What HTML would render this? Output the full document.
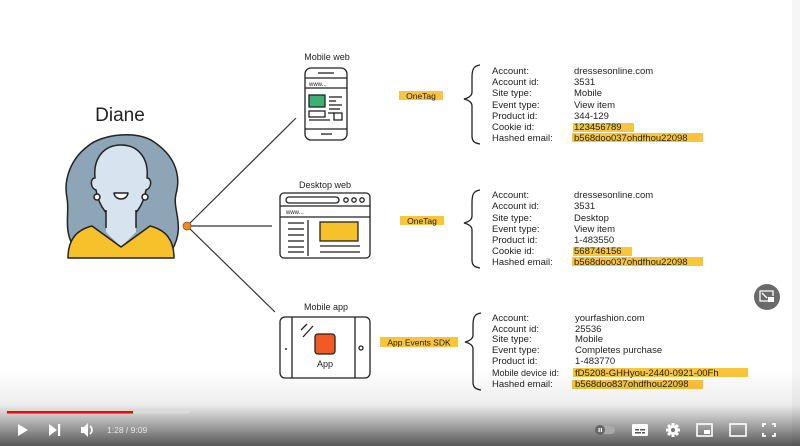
<!DOCTYPE html>
<html><head><meta charset="utf-8"><style>
html,body{margin:0;padding:0;background:#fff;}
svg{display:block;}
text{font-family:"Liberation Sans",sans-serif;fill:#222;}
</style></head><body>
<svg width="800" height="446" viewBox="0 0 800 446" xmlns="http://www.w3.org/2000/svg">
<defs>
<linearGradient id="bg" x1="0" y1="0" x2="0" y2="1">
<stop offset="0" stop-color="#000" stop-opacity="0"/>
<stop offset="0.45" stop-color="#000" stop-opacity="0.07"/>
<stop offset="0.6" stop-color="#000" stop-opacity="0.22"/>
<stop offset="1" stop-color="#000" stop-opacity="0.66"/>
</linearGradient>
</defs>
<rect x="0" y="0" width="800" height="446" fill="#fff"/>
<rect x="792" y="0" width="8" height="446" fill="#f6f6f6"/>

<!-- Diane -->
<text x="120" y="121" font-size="19" text-anchor="middle" font-family="Liberation Sans">Diane</text>
<g stroke="#222" stroke-width="1.5" stroke-linejoin="round">
<path d="M76 250 C 62 232, 70 214, 67 198 C 63 178, 72 158, 88 146 C 102 134, 138 130, 154 142 C 172 154, 182 172, 176 194 C 172 210, 186 226, 172 250 Z" fill="#8ea5b8"/>
<path d="M95 178 C 93 158, 104 145, 121 145 C 138 145, 149 158, 147 178 C 152 178, 152 188, 146 190 C 143 206, 134 220, 121 220 C 108 220, 99 206, 96 190 C 90 188, 90 178, 95 178 Z" fill="#d7e3ee"/>
<path d="M106 212 L106 232 L121 247 L136 232 L136 212 Z" fill="#d7e3ee" stroke="none"/>
<path d="M106 210 L106 228 M136 210 L136 228" fill="none"/>
<path d="M68 258 C 68 240, 76 230, 92 226 L121 247 L150 226 C 166 230, 174 240, 174 258 Z" fill="#f7c12c"/>
<circle cx="97" cy="197" r="3" fill="#fff"/>
<circle cx="145" cy="197" r="3" fill="#fff"/>
<path d="M114 193 L128 193 C 127 201, 115 201, 114 193 Z" fill="#fff"/>
</g>

<!-- connectors -->
<g stroke="#333" stroke-width="1.2">
<line x1="187" y1="226" x2="296" y2="118"/>
<line x1="187" y1="226" x2="272" y2="226"/>
<line x1="187" y1="226" x2="275" y2="312"/>
</g>
<circle cx="187" cy="226" r="4" fill="#f08a24" stroke="#a04a10" stroke-width="0.8"/>

<!-- Mobile web -->
<text x="327" y="60" font-size="9" text-anchor="middle">Mobile web</text>
<g stroke="#222" stroke-width="1.3" fill="none">
<rect x="305" y="68" width="42" height="72" rx="6" fill="#fff"/>
<line x1="318" y1="73" x2="334" y2="73"/>
<line x1="305" y1="78" x2="347" y2="78"/>
<line x1="305" y1="88" x2="347" y2="88"/>
<rect x="309" y="95" width="16" height="12" fill="#3fae77"/>
<line x1="329" y1="97" x2="342" y2="97"/>
<line x1="329" y1="101" x2="336" y2="101"/>
<line x1="329" y1="105" x2="342" y2="105"/>
<line x1="329" y1="109" x2="340" y2="109"/>
<rect x="309" y="111" width="16" height="6"/>
<line x1="328" y1="113" x2="334" y2="113"/>
<rect x="334" y="113" width="8" height="7"/>
<line x1="309" y1="120" x2="330" y2="120"/>
<line x1="305" y1="129" x2="347" y2="129"/>
<line x1="321" y1="134" x2="332" y2="134"/>
</g>
<text x="309" y="86" font-size="6">www...</text>

<!-- Desktop web -->
<text x="325" y="188" font-size="9" text-anchor="middle">Desktop web</text>
<g stroke="#222" stroke-width="1.3" fill="none">
<rect x="280" y="193" width="90" height="65" rx="4" fill="#fff"/>
<rect x="286" y="197" width="53" height="6" rx="3"/>
<circle cx="346" cy="200" r="2.2"/>
<circle cx="354" cy="200" r="2.2"/>
<circle cx="362" cy="200" r="2.2"/>
<line x1="280" y1="206" x2="370" y2="206"/>
<line x1="280" y1="217" x2="370" y2="217"/>
<line x1="308" y1="220" x2="308" y2="256"/>
<line x1="288" y1="223" x2="304" y2="223"/>
<line x1="288" y1="229" x2="304" y2="229"/>
<line x1="288" y1="235" x2="304" y2="235"/>
<line x1="288" y1="241" x2="304" y2="241"/>
<line x1="288" y1="247" x2="304" y2="247"/>
<line x1="288" y1="252" x2="304" y2="252"/>
<rect x="320" y="222" width="38" height="19" fill="#f7c12c"/>
<line x1="320" y1="246" x2="360" y2="246"/>
<line x1="320" y1="252" x2="360" y2="252"/>
</g>
<text x="286" y="214" font-size="6">www...</text>

<!-- Mobile app -->
<text x="326" y="310" font-size="9" text-anchor="middle">Mobile app</text>
<g stroke="#222" stroke-width="1.3" fill="none">
<rect x="280" y="317" width="90" height="61" rx="5" fill="#fff"/>
<line x1="292" y1="317" x2="292" y2="378"/>
<line x1="355" y1="317" x2="355" y2="378"/>
<circle cx="361" cy="348" r="2"/>
<line x1="301" y1="330" x2="307" y2="324"/>
<line x1="303" y1="337" x2="313" y2="326"/>
<rect x="315" y="334" width="20" height="20" rx="3" fill="#f15a24"/>
</g>
<circle cx="286" cy="349" r="1" fill="#222"/>
<text x="325" y="367" font-size="9" text-anchor="middle">App</text>

<!-- labels -->
<rect x="399" y="91" width="44" height="9" fill="#f8c53c"/>
<text x="421" y="99" font-size="8.5" text-anchor="middle">OneTag</text>
<rect x="400" y="216" width="44" height="9" fill="#f8c53c"/>
<text x="422" y="224" font-size="8.5" text-anchor="middle">OneTag</text>
<rect x="380" y="337" width="78" height="10" fill="#f8c53c"/>
<text x="419" y="345.5" font-size="8.5" text-anchor="middle">App Events SDK</text>

<!-- braces -->
<g stroke="#222" stroke-width="1.3" fill="none">
<path d="M480 65 C 473 66, 472 70, 472 78 L 472 92 C 472 96, 468 98, 464 99 C 468 100, 472 102, 472 106 L 472 136 C 472 141, 474 143, 480 144"/>
<path d="M480 190 C 473 191, 472 195, 472 203 L 472 216 C 472 220, 468 222, 464 223 C 468 224, 472 226, 472 230 L 472 260 C 472 265, 474 267, 480 268"/>
<path d="M481 313 C 474 314, 473 318, 473 326 L 473 335 C 473 339, 469 341, 465 342 C 469 343, 473 345, 473 349 L 473 382 C 473 387, 475 389, 481 390"/>
</g>

<!-- highlights -->
<g fill="#f8c53c">
<rect x="573" y="123" width="61" height="9"/>
<rect x="572" y="133" width="131" height="9"/>
<rect x="573" y="247" width="59" height="9"/>
<rect x="572" y="257" width="131" height="9"/>
<rect x="573" y="368" width="175" height="9"/>
<rect x="572" y="380" width="131" height="9"/>
</g>

<!-- block 1 -->
<g font-size="9.5">
<text x="492" y="74">Account:</text><text x="574" y="74">dressesonline.com</text>
<text x="492" y="85">Account id:</text><text x="574" y="85">3531</text>
<text x="492" y="96">Site type:</text><text x="574" y="96">Mobile</text>
<text x="492" y="108">Event type:</text><text x="574" y="108">View item</text>
<text x="492" y="119">Product id:</text><text x="574" y="119">344-129</text>
<text x="492" y="130">Cookie id:</text><text x="574" y="130">123456789</text>
<text x="492" y="141">Hashed email:</text><text x="574" y="141">b568doo037ohdfhou22098</text>
</g>
<!-- block 2 -->
<g font-size="9.5">
<text x="492" y="198">Account:</text><text x="574" y="198">dressesonline.com</text>
<text x="492" y="209">Account id:</text><text x="574" y="209">3531</text>
<text x="492" y="221">Site type:</text><text x="574" y="221">Desktop</text>
<text x="492" y="232">Event type:</text><text x="574" y="232">View item</text>
<text x="492" y="243">Product id:</text><text x="574" y="243">1-483550</text>
<text x="492" y="254">Cookie id:</text><text x="574" y="254">568746156</text>
<text x="492" y="265">Hashed email:</text><text x="574" y="265">b568doo037ohdfhou22098</text>
</g>
<!-- block 3 -->
<g font-size="9.5">
<text x="492" y="321">Account:</text><text x="575" y="321">yourfashion.com</text>
<text x="492" y="332">Account id:</text><text x="575" y="332">25536</text>
<text x="492" y="342">Site type:</text><text x="575" y="342">Mobile</text>
<text x="492" y="353">Event type:</text><text x="575" y="353">Completes purchase</text>
<text x="492" y="364">Product id:</text><text x="575" y="364">1-483770</text>
<text x="492" y="376" font-size="9">Mobile device id:</text><text x="575" y="376">fD5208-GHHyou-2440-0921-00Fh</text>
<text x="492" y="387">Hashed email:</text><text x="575" y="387">b568doo837ohdfhou22098</text>
</g>

<!-- round button -->
<circle cx="767" cy="297" r="13" fill="#6a6a6a"/>
<g stroke="#fff" stroke-width="1.3" fill="none">
<path d="M771 301 L760 301 L760 291 L773 291 L773 296"/>
<line x1="762" y1="293" x2="767" y2="298"/>
</g>
<rect x="768" y="297" width="6" height="5" fill="#fff"/>

<!-- bottom gradient -->
<rect x="0" y="370" width="800" height="76" fill="url(#bg)"/>
<rect x="7" y="411" width="182" height="2.5" fill="#ddd" opacity="0.9"/>
<rect x="7" y="411" width="126" height="2.5" fill="#f00"/>

<!-- left controls -->
<g fill="#fff">
<polygon points="18,424 18,436 28,430"/>
<polygon points="49,424 49,436 57,430"/>
<rect x="58" y="424" width="2.2" height="12"/>
<polygon points="81,427 84,427 88,423 88,437 84,433 81,433"/>
</g>
<path d="M90 426 Q 94 430 90 434" stroke="#fff" stroke-width="1.6" fill="none"/>
<text x="107" y="433" font-size="8.5" style="fill:#e8e8e8">1:28 / 9:09</text>

<!-- right controls -->
<rect x="596" y="426" width="19" height="8" rx="4" fill="#aaa"/>
<circle cx="600" cy="430" r="5" fill="#666"/>
<rect x="598.5" y="428" width="1.2" height="4" fill="#fff"/>
<rect x="600.8" y="428" width="1.2" height="4" fill="#fff"/>
<rect x="632" y="424" width="16" height="12" rx="1.5" fill="#fff"/>
<rect x="635" y="429" width="4" height="1.5" fill="#555"/>
<rect x="640" y="429" width="5" height="1.5" fill="#555"/>
<rect x="635" y="432" width="6" height="1.5" fill="#555"/>
<rect x="642" y="432" width="3" height="1.5" fill="#555"/>
<g fill="#fff">
<circle cx="673" cy="430" r="5"/>
<rect x="671.5" y="423" width="3" height="14"/>
<rect x="666" y="428.5" width="14" height="3"/>
<rect x="671.5" y="423" width="3" height="14" transform="rotate(45 673 430)"/>
<rect x="671.5" y="423" width="3" height="14" transform="rotate(-45 673 430)"/>
</g>
<circle cx="673" cy="430" r="2" fill="#777"/>
<rect x="697" y="424" width="15" height="12" fill="none" stroke="#fff" stroke-width="1.6"/>
<rect x="704" y="430" width="6" height="4" fill="#fff"/>
<rect x="730" y="424" width="16" height="12" fill="none" stroke="#fff" stroke-width="1.6"/>
<g stroke="#fff" stroke-width="1.8" fill="none">
<path d="M763 427 L763 424 L766 424"/>
<path d="M772 424 L775 424 L775 427"/>
<path d="M763 433 L763 436 L766 436"/>
<path d="M772 436 L775 436 L775 433"/>
</g>
</svg>
</body></html>
